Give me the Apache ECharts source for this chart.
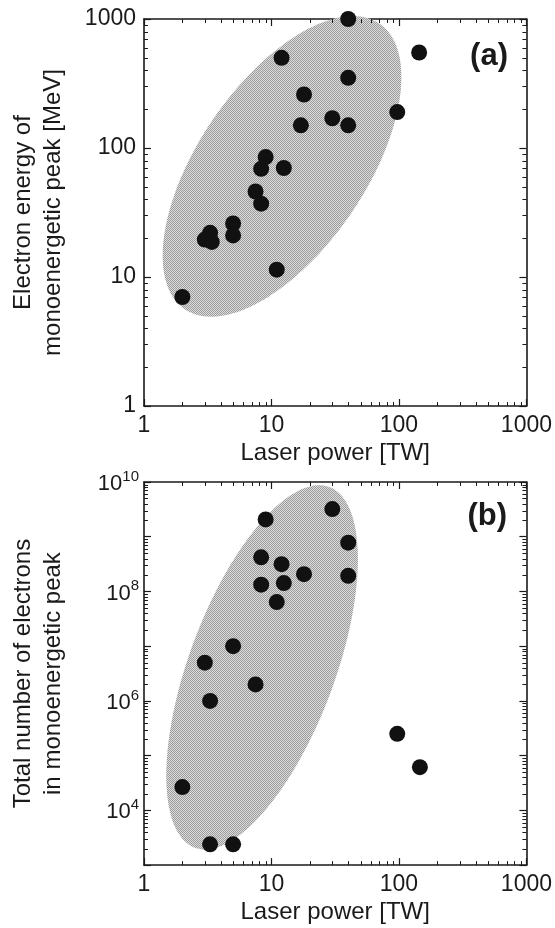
<!DOCTYPE html>
<html>
<head>
<meta charset="utf-8">
<style>
  html, body { margin: 0; padding: 0; background: #fff; }
  #chart { width: 555px; height: 928px; }
</style>
<script src="https://cdn.jsdelivr.net/npm/echarts@6/dist/echarts.min.js"></script>
</head>
<body>
<div id="chart"></div>
<script>
// panel (a): laser power [TW] vs electron energy [MeV]
const powerA = [40, 144, 12, 40, 18, 97, 30, 17, 40, 9, 8.3, 12.5, 7.5, 8.3, 5, 3.3, 3, 3.4, 5, 11, 2];
const energyA = [1000, 550, 500, 350, 260, 190, 170, 150, 150, 85, 69, 70, 46, 37, 26, 22, 19.5, 18.7, 21, 11.4, 7];

// panel (b): laser power [TW] vs number of electrons
const powerB = [30, 9, 40, 8.3, 12, 18, 40, 8.3, 12.5, 11, 5, 3, 7.5, 3.3, 97, 146, 2, 3.3, 5];
const numberB = [3.2e9, 2.07e9, 7.8e8, 4.2e8, 3.15e8, 2.07e8, 1.93e8, 1.33e8, 1.42e8, 6.4e7, 1e7, 5e6, 2e6, 1e6, 2.5e5, 6.15e4, 2.66e4, 2.4e3, 2.4e3];

// shaded regions: centre (data values) and two conjugate semi-axes in decades
const ellipseCenterA = [12.1, 72];
const ellipseAxesA = [[0.768, 1.104], [-0.536, 0.373]];
const ellipseCenterB = [8.44, 4.1e6];
const ellipseAxesB = [[0.528, 3.295], [-0.535, 0.472]];

// axis ranges and the minor tick steps inside each decade
const xRange = [1, 1000];
const yRangeA = [1, 1000];
const yRangeB = [1e3, 1e10];
const minorSteps = [2, 3, 4, 5, 6, 7, 8, 9];

const FONT = '"Liberation Sans", Arial, Helvetica, sans-serif';
const INK = '#1a1a1a';

// dotted grey fill like the printed halftone
const tile = document.createElement('canvas');
tile.width = 2;
tile.height = 2;
const tctx = tile.getContext('2d');
tctx.fillStyle = '#dcdcdc';
tctx.fillRect(0, 0, 2, 2);
tctx.fillStyle = '#9c9c9c';
tctx.fillRect(0, 0, 1, 1);
tctx.fillRect(1, 1, 1, 1);
const halftone = { image: tile, repeat: 'repeat' };

function pairs(xs, ys) {
  return xs.map((x, i) => [x, ys[i]]);
}

function minorValues(range) {
  const out = [];
  for (let d = range[0]; d < range[1]; d *= 10) {
    minorSteps.forEach((s) => out.push(s * d));
  }
  return out;
}

function ellipseSeries(idx, center, axes) {
  return {
    type: 'custom',
    xAxisIndex: idx * 2,
    yAxisIndex: idx * 2,
    silent: true,
    z: 1,
    data: [center],
    renderItem: (params, api) => {
      const cx = Math.log10(center[0]);
      const cy = Math.log10(center[1]);
      const pts = [];
      for (let i = 0; i < 180; i++) {
        const t = (i / 180) * 2 * Math.PI;
        const lx = cx + axes[0][0] * Math.cos(t) + axes[1][0] * Math.sin(t);
        const ly = cy + axes[0][1] * Math.cos(t) + axes[1][1] * Math.sin(t);
        pts.push(api.coord([Math.pow(10, lx), Math.pow(10, ly)]));
      }
      return { type: 'polygon', shape: { points: pts }, style: { fill: halftone } };
    }
  };
}

// short inward ticks at 2..9 of every decade on all four sides
function minorTickSeries(idx, yRange) {
  const xs = minorValues(xRange);
  const ys = minorValues(yRange);
  return {
    type: 'custom',
    xAxisIndex: idx * 2,
    yAxisIndex: idx * 2,
    silent: true,
    z: 4,
    data: [[xRange[0], yRange[0]]],
    renderItem: (params, api) => {
      const len = 4;
      const style = { stroke: INK, lineWidth: 1 };
      const top = api.coord([xRange[0], yRange[1]])[1];
      const bottom = api.coord([xRange[0], yRange[0]])[1];
      const left = api.coord([xRange[0], yRange[0]])[0];
      const right = api.coord([xRange[1], yRange[0]])[0];
      const children = [];
      xs.forEach((v) => {
        const x = Math.round(api.coord([v, yRange[0]])[0]) + 0.5;
        children.push({ type: 'line', shape: { x1: x, y1: bottom, x2: x, y2: bottom - len }, style });
        children.push({ type: 'line', shape: { x1: x, y1: top, x2: x, y2: top + len }, style });
      });
      ys.forEach((v) => {
        const y = Math.round(api.coord([xRange[0], v])[1]) + 0.5;
        children.push({ type: 'line', shape: { x1: left, y1: y, x2: left + len, y2: y }, style });
        children.push({ type: 'line', shape: { x1: right, y1: y, x2: right - len, y2: y }, style });
      });
      return { type: 'group', children };
    }
  };
}

function logAxis(grid, pos, range, extra) {
  return Object.assign({
    type: 'log',
    logBase: 10,
    gridIndex: grid,
    position: pos,
    min: range[0],
    max: range[1],
    interval: 1,
    axisLine: { show: true, onZero: false, lineStyle: { color: INK, width: 1.6 } },
    axisTick: { show: true, inside: true, length: 7, lineStyle: { color: INK, width: 1.2 } },
    minorTick: { show: false },
    splitLine: { show: false },
    axisLabel: { show: false }
  }, extra || {});
}

const tickLabel = {
  show: true,
  fontFamily: FONT,
  fontSize: 23,
  color: INK,
  margin: 8,
  formatter: (v) => String(v)
};

const nameStyle = {
  fontFamily: FONT,
  fontSize: 24,
  color: INK,
  lineHeight: 30
};

const chart = echarts.init(document.getElementById('chart'));

chart.setOption({
  animation: false,
  grid: [
    { left: 140, top: 19, width: 388, height: 387 },
    { left: 140, top: 482, width: 388, height: 385 }
  ],
  xAxis: [
    logAxis(0, 'bottom', xRange, {
      axisLabel: tickLabel,
      name: 'Laser power [TW]',
      nameLocation: 'middle',
      nameGap: 30,
      nameTextStyle: nameStyle
    }),
    logAxis(0, 'top', xRange),
    logAxis(1, 'bottom', xRange, {
      axisLabel: tickLabel,
      name: 'Laser power [TW]',
      nameLocation: 'middle',
      nameGap: 29,
      nameTextStyle: nameStyle
    }),
    logAxis(1, 'top', xRange)
  ],
  yAxis: [
    logAxis(0, 'left', yRangeA, {
      axisLabel: tickLabel,
      name: 'Electron energy of\nmonoenergetic peak [MeV]',
      nameLocation: 'middle',
      nameRotate: 90,
      nameGap: 76,
      nameTextStyle: nameStyle
    }),
    logAxis(0, 'right', yRangeA),
    logAxis(1, 'left', yRangeB, {
      axisLabel: Object.assign({}, tickLabel, {
        margin: 5,
        formatter: (v) => {
          const n = Math.round(Math.log10(v));
          return n % 2 === 0 ? '{b|10}{s|' + n + '}' : '';
        },
        rich: {
          b: { fontFamily: FONT, fontSize: 22, color: INK, lineHeight: 26, verticalAlign: 'bottom' },
          s: { fontFamily: FONT, fontSize: 15, color: INK, lineHeight: 26, verticalAlign: 'top' }
        }
      }),
      name: 'Total number of electrons\nin monoenergetic peak',
      nameLocation: 'middle',
      nameRotate: 90,
      nameGap: 76,
      nameTextStyle: nameStyle
    }),
    logAxis(1, 'right', yRangeB)
  ],
  graphic: [
    { type: 'text', right: 47, top: 41, style: { text: '(a)', font: 'bold 31px ' + FONT, fill: INK } },
    { type: 'text', right: 48, top: 501, style: { text: '(b)', font: 'bold 31px ' + FONT, fill: INK } }
  ],
  series: [
    ellipseSeries(0, ellipseCenterA, ellipseAxesA),
    ellipseSeries(1, ellipseCenterB, ellipseAxesB),
    minorTickSeries(0, yRangeA),
    minorTickSeries(1, yRangeB),
    {
      type: 'scatter',
      xAxisIndex: 0,
      yAxisIndex: 0,
      z: 3,
      symbolSize: 16,
      itemStyle: { color: '#111', opacity: 1 },
      data: pairs(powerA, energyA)
    },
    {
      type: 'scatter',
      xAxisIndex: 2,
      yAxisIndex: 2,
      z: 3,
      symbolSize: 16,
      itemStyle: { color: '#111', opacity: 1 },
      data: pairs(powerB, numberB)
    }
  ]
});
</script>
</body>
</html>
